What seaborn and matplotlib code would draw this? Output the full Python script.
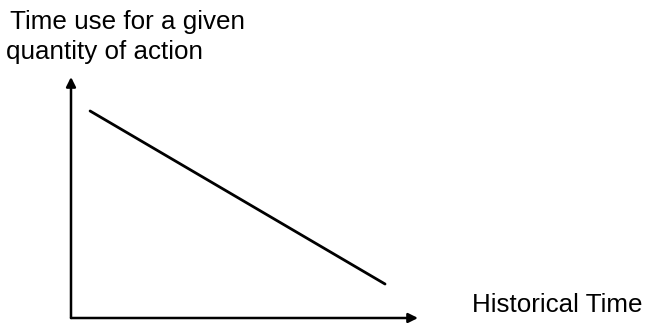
import matplotlib
matplotlib.use("Agg")
import matplotlib.pyplot as plt
import seaborn as sns
import pandas as pd

# Conceptual trend: time needed for a given quantity of action falls over history
historical_time = [0.055, 0.905]
time_use = [0.859, 0.141]

y_label_lines = ["Time use for a given", "quantity of action"]
x_label = "Historical Time"

sns.set_theme(style="white")
plt.rcParams["font.family"] = ["Liberation Sans", "DejaVu Sans"]

W, H = 648, 323
fig = plt.figure(figsize=(W / 100, H / 100), dpi=100)
ax = fig.add_axes([71 / W, (H - 318) / H, (418 - 71) / W, (318 - 77) / H])

df = pd.DataFrame({"t": historical_time, "use": time_use})
sns.lineplot(data=df, x="t", y="use", ax=ax, color="black", linewidth=2.0)

ax.set_xlim(0, 1)
ax.set_ylim(0, 1)
for s in ax.spines.values():
    s.set_visible(False)
ax.set_xticks([])
ax.set_yticks([])
ax.set_xlabel("")
ax.set_ylabel("")
ax.patch.set_alpha(0)

arrow = dict(arrowstyle="-|>", color="black", lw=1.8, mutation_scale=14,
             shrinkA=0, shrinkB=0)
ax.annotate("", xy=(1, 0), xytext=(0, 0), xycoords="axes fraction",
            arrowprops=arrow, annotation_clip=False)
ax.annotate("", xy=(0, 1), xytext=(0, 0), xycoords="axes fraction",
            arrowprops=arrow, annotation_clip=False)

fs = 18.7
fig.text(10 / W, 1 - 29 / H, y_label_lines[0], fontsize=fs, va="baseline",
         ha="left", color="black")
fig.text(6 / W, 1 - 58.5 / H, y_label_lines[1], fontsize=fs, va="baseline",
         ha="left", color="black")
fig.text(472 / W, 1 - 312 / H, x_label, fontsize=fs, va="baseline",
         ha="left", color="black")

fig.savefig("out.png", dpi=100, facecolor="white")
